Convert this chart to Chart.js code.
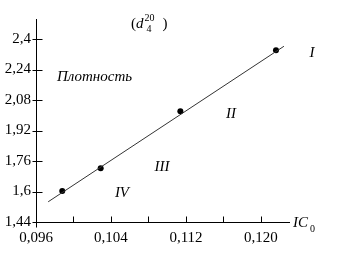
<!DOCTYPE html>
<html>
<head>
<meta charset="utf-8">
<script src="https://cdn.jsdelivr.net/npm/chart.js@4"></script>
<style>
  html, body { margin: 0; padding: 0; background: #fff; }
  #wrap { width: 344px; height: 268px; }
</style>
</head>
<body>
<div id="wrap"><canvas id="density"></canvas></div>
<script>
// measured points, IC0 vs density d4^20
var icValues = [0.0988, 0.1029, 0.1114, 0.1216];
var densityValues = [1.603, 1.722, 2.021, 2.341];
// fitted straight line, two ends
var lineX = [0.0973, 0.12245];
var lineY = [1.546, 2.362];
// axis ticks
var xTicks = [0.096, 0.100, 0.104, 0.108, 0.112, 0.116, 0.120];
var xTickLabels = ['0,096', '', '0,104', '', '0,112', '', '0,120'];
var yTicks = [1.44, 1.6, 1.76, 1.92, 2.08, 2.24, 2.4];
var yTickLabels = ['1,44', '1,6', '1,76', '1,92', '2,08', '2,24', '2,4'];
// text labels on the plot (data coordinates)
var zoneLabels = ['I', 'II', 'III', 'IV'];
var zoneX = [0.12544, 0.1168, 0.10944, 0.10517];
var zoneY = [2.327, 2.007, 1.729, 1.592];

const SERIF = '"Liberation Serif", "Times New Roman", serif';

// little tick marks crossing the axes, plus the text on the plot
const axisExtras = {
  id: 'axisExtras',
  afterDraw(chart) {
    const ctx = chart.ctx;
    const xs = chart.scales.x, ys = chart.scales.y;
    const x0 = Math.round(xs.left) + 0.5, y0 = Math.round(ys.bottom) + 0.5;
    ctx.save();
    ctx.strokeStyle = '#000';
    ctx.lineWidth = 1;
    ctx.beginPath();
    yTicks.forEach(v => {
      const py = Math.round(ys.getPixelForValue(v)) + 0.5;
      ctx.moveTo(x0 - 4, py); ctx.lineTo(x0 + 6, py);
    });
    xTicks.forEach(v => {
      const px = Math.round(xs.getPixelForValue(v)) + 0.5;
      ctx.moveTo(px, y0); ctx.lineTo(px, y0 - 6);
    });
    ctx.moveTo(x0, y0); ctx.lineTo(x0, y0 + 5);
    ctx.stroke();

    ctx.fillStyle = '#000';
    ctx.textBaseline = 'middle';
    ctx.textAlign = 'center';
    ctx.font = 'italic 15px ' + SERIF;
    zoneLabels.forEach((t, i) => {
      ctx.fillText(t, xs.getPixelForValue(zoneX[i]), ys.getPixelForValue(zoneY[i]));
    });
    ctx.fillText('Плотность', xs.getPixelForValue(0.10224), ys.getPixelForValue(2.201));

    // (d 4 20)
    ctx.textAlign = 'left';
    let px = xs.getPixelForValue(0.10613);
    let py = ys.getPixelForValue(2.479);
    ctx.font = '15px ' + SERIF;
    ctx.fillText('(', px, py);
    px += ctx.measureText('(').width;
    ctx.font = 'italic 15px ' + SERIF;
    ctx.fillText('d', px, py);
    px += ctx.measureText('d').width + 1;
    ctx.font = '10px ' + SERIF;
    ctx.fillText('20', px, py - 6);
    ctx.fillText('4', px + 2, py + 5);
    px += ctx.measureText('20').width + 8;
    ctx.font = '15px ' + SERIF;
    ctx.fillText(')', px, py);

    // IC0
    px = xs.getPixelForValue(0.12341);
    py = ys.getPixelForValue(1.435);
    ctx.font = 'italic 15px ' + SERIF;
    ctx.fillText('IC', px, py);
    px += ctx.measureText('IC').width + 2;
    ctx.font = '10px ' + SERIF;
    ctx.fillText('0', px, py + 6);
    ctx.restore();
  }
};

new Chart('density', {
  type: 'scatter',
  data: {
    datasets: [
      {
        label: 'line',
        data: lineX.map((x, i) => ({ x: x, y: lineY[i] })),
        showLine: true,
        borderColor: '#333',
        borderWidth: 1,
        pointRadius: 0,
        fill: false,
      },
      {
        label: 'points',
        data: icValues.map((x, i) => ({ x: x, y: densityValues[i] })),
        backgroundColor: '#000',
        borderColor: '#000',
        pointRadius: 3,
        borderWidth: 0,
      },
    ]
  },
  options: {
    responsive: true,
    maintainAspectRatio: false,
    animation: false,
    layout: { padding: { top: 19, right: 55, left: 0, bottom: 0 } },
    plugins: {
      legend: { display: false },
      tooltip: { enabled: false },
    },
    scales: {
      x: {
        type: 'linear',
        min: 0.096,
        max: 0.12299,
        afterFit: s => { s.height = 46; },
        afterBuildTicks: s => { s.ticks = xTicks.map(v => ({ value: v })); },
        grid: { display: false, drawTicks: false },
        border: { display: true, color: '#000', width: 1 },
        ticks: {
          padding: 7,
          maxRotation: 0,
          autoSkip: false,
          color: '#000',
          font: { family: SERIF, size: 15 },
          callback: (v, i) => xTickLabels[i],
        }
      },
      y: {
        type: 'linear',
        min: 1.44,
        max: 2.505,
        afterFit: s => { s.width = 36; },
        afterBuildTicks: s => { s.ticks = yTicks.map(v => ({ value: v })); },
        grid: { display: false, drawTicks: false },
        border: { display: true, color: '#000', width: 1 },
        ticks: {
          padding: 5,
          autoSkip: false,
          color: '#000',
          font: { family: SERIF, size: 15 },
          callback: (v, i) => yTickLabels[i],
        }
      },
    }
  },
  plugins: [axisExtras]
});
</script>
</body>
</html>
